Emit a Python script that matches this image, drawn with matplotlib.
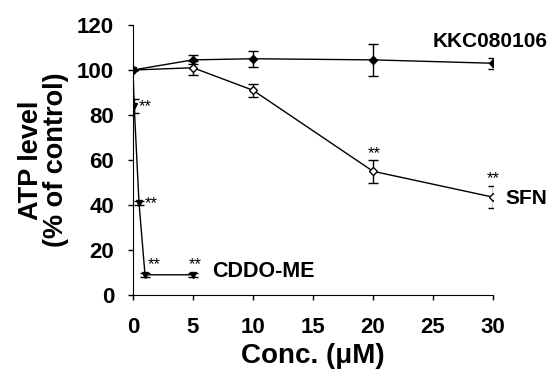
import matplotlib
matplotlib.use("Agg")
import matplotlib.pyplot as plt

plt.rcParams['font.family'] = ['Liberation Sans', 'DejaVu Sans']
plt.rcParams['font.weight'] = 'bold'

conc = [0, 5, 10, 20, 30]
kkc = [100, 104.5, 105, 104.5, 103]
kkc_err = [0, 2, 3.6, 7, 2.5]
sfn = [100, 101, 91, 55, 43.5]
sfn_err = [0, 3, 3, 5, 5]

cddo_conc = [0, 0.1, 0.5, 1, 5]
cddo = [100, 84, 41, 9, 9]
cddo_err = [0, 3, 1, 1, 1]

# significance marks (x, y)
stars_x = [1.0, 1.5, 1.75, 5.2, 20.1, 30]
stars_y = [83.7, 40.7, 13.7, 13.7, 62.9, 51.8]

fig = plt.figure(figsize=(5.53, 3.73), dpi=100)
ax = fig.add_axes([0.2405, 0.209, 0.651, 0.724])

err_kw = dict(color='black', lw=1, capsize=3.5, capthick=1, elinewidth=1)
ax.errorbar(cddo_conc, cddo, yerr=cddo_err, marker='v', ms=5,
            mfc='black', mec='black', **err_kw)
ax.errorbar(conc, sfn, yerr=sfn_err, marker='D', ms=4.5,
            mfc='white', mec='black', **err_kw)
ax.errorbar(conc, kkc, yerr=kkc_err, marker='D', ms=4.5,
            mfc='black', mec='black', **err_kw)

for x, y in zip(stars_x, stars_y):
    ax.text(x, y, '**', fontsize=12, fontweight='normal',
            ha='center', va='center')

ax.text(25.0, 112.5, 'KKC080106', fontsize=15, ha='left', va='center')
ax.text(31, 43, 'SFN', fontsize=15, ha='left', va='center')
ax.text(6.6, 10.5, 'CDDO-ME', fontsize=15.5, ha='left', va='center')

ax.set_xlim(0, 30)
ax.set_ylim(0, 120)
ax.set_xticks([0, 5, 10, 15, 20, 25, 30])
ax.set_yticks([0, 20, 40, 60, 80, 100, 120])
ax.tick_params(labelsize=16, direction='out', length=3.5, width=1)
ax.tick_params(axis='x', pad=12)
ax.tick_params(axis='y', pad=10)
for lab in ax.get_xticklabels() + ax.get_yticklabels():
    lab.set_fontweight('bold')
ax.spines['top'].set_visible(False)
ax.spines['right'].set_visible(False)
ax.set_xlabel('Conc. (\u03bcM)', fontsize=20, fontweight='bold', labelpad=4)
ax.set_ylabel('ATP level\n(% of control)', fontsize=19.5, fontweight='bold',
              labelpad=6, linespacing=0.95)

fig.savefig('out.png', dpi=100)
